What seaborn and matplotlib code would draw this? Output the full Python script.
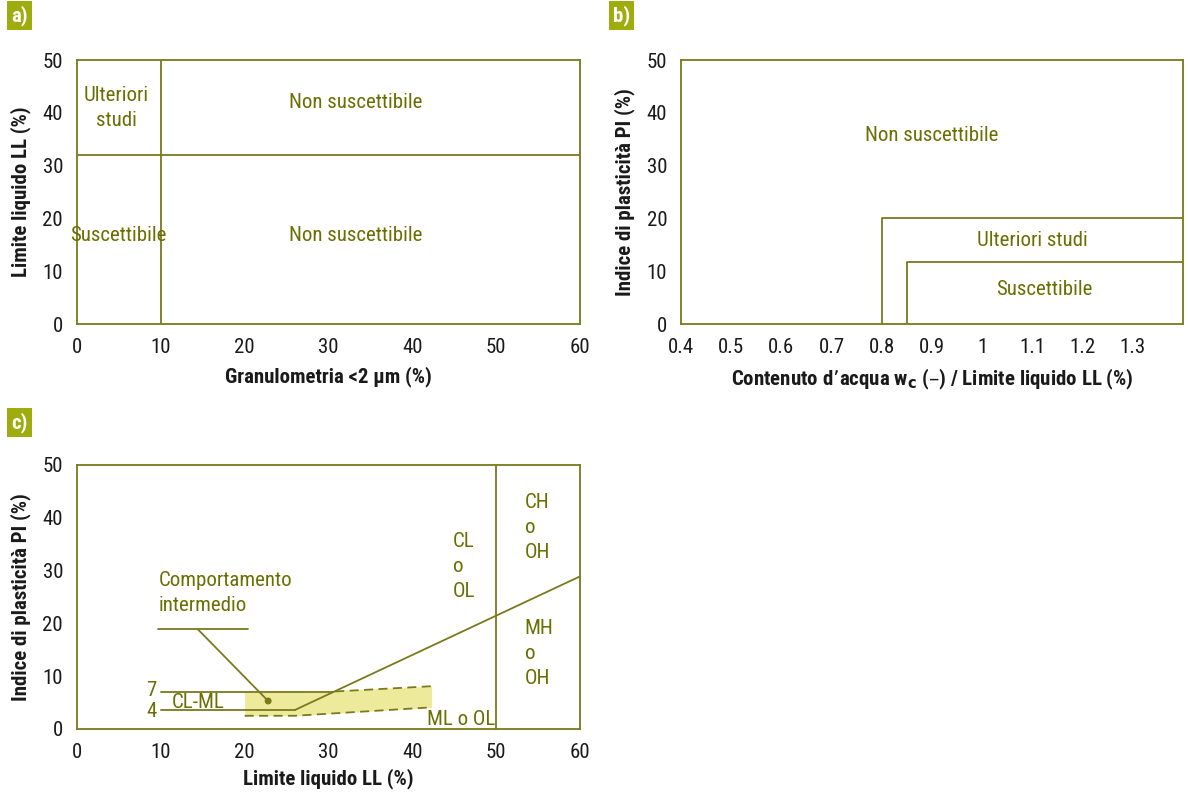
import matplotlib
matplotlib.use("Agg")
import matplotlib.pyplot as plt
import seaborn as sns
import pandas as pd

sns.set_theme(style="white")
plt.rcParams["font.family"] = ["Roboto Condensed", "Liberation Sans Narrow", "Roboto", "DejaVu Sans"]

OLIVE = "#7a7a1c"
TEXT = "#6b6e00"
BADGE = "#9fac0e"
FILL = "#eeea9c"

# a) clay fraction vs liquid limit
a_xlim = (0, 60)
a_ylim = (0, 50)
a_ticks_x = [0, 10, 20, 30, 40, 50, 60]
a_ticks_y = [0, 10, 20, 30, 40, 50]
a_split_x = 10
a_split_y = 32
a_labels = [("Ulteriori\nstudi", 4.7, 41.0), ("Non suscettibile", 33.2, 42.0),
            ("Suscettibile", 4.9, 16.8), ("Non suscettibile", 33.2, 16.8)]

# b) water content / LL vs PI
b_xlim = (0.4, 1.4)
b_ticks_x = [0.4, 0.5, 0.6, 0.7, 0.8, 0.9, 1.0, 1.1, 1.2, 1.3]
b_tick_labels = ["0.4", "0.5", "0.6", "0.7", "0.8", "0.9", "1", "1.1", "1.2", "1.3"]
b_outer = {"x": [0.8, 0.8, 1.4], "y": [0, 20, 20]}
b_inner = {"x": [0.85, 0.85, 1.4], "y": [0, 11.8, 11.8]}
b_labels = [("Non suscettibile", 0.90, 35.8), ("Ulteriori studi", 1.10, 15.8),
            ("Suscettibile", 1.124, 6.6)]

# c) plasticity chart
c_aline = {"x": [26, 60], "y": [3.6, 28.9]}
c_line7 = {"x": [10, 30.5], "y": [7, 7]}
c_line4 = {"x": [10, 26], "y": [3.6, 3.6]}
c_fill_x = [20, 26, 42.3]
c_fill_low = [2.5, 2.5, 4.1]
c_fill_high = [7, 7, 8.1]
c_top_dash = {"x": [30.8, 42.3], "y": [7.1, 8.1]}
c_low_dash = {"x": [20, 26, 42.3], "y": [2.5, 2.5, 4.1]}
c_leader = {"x": [9.7, 20.4], "y": [18.9, 18.9]}
c_pointer = {"x": [14.4, 22.8], "y": [18.9, 5.3]}
c_vline = 50
c_labels = [("CL\no\nOL", 44.8, 30.8), ("CH\no\nOH", 53.4, 38.2),
            ("MH\no\nOH", 53.4, 14.3), ("ML o OL", 41.8, 1.7),
            ("CL-ML", 11.3, 5.1)]


def style_axes(ax, xlim, ylim, xticks, yticks, xlabel, ylabel, xticklabels=None):
    ax.set_xlim(*xlim)
    ax.set_ylim(*ylim)
    ax.set_xticks(xticks)
    if xticklabels is not None:
        ax.set_xticklabels(xticklabels)
    ax.set_yticks(yticks)
    for s in ax.spines.values():
        s.set_color(OLIVE)
        s.set_linewidth(1.3)
        s.set_visible(True)
    ax.tick_params(direction="inout", length=8, width=1.2, color=OLIVE,
                   labelsize=15, labelcolor="#1a1a1a", pad=6)
    ax.set_xlabel(xlabel, fontsize=15, fontweight="bold", color="#1a1a1a", labelpad=7)
    ax.set_ylabel(ylabel, fontsize=15, fontweight="bold", color="#1a1a1a", labelpad=8)
    ax.grid(False)


def seg(ax, d, **kw):
    sns.lineplot(data=pd.DataFrame(d), x="x", y="y", ax=ax, color=OLIVE, lw=1.3,
                 sort=False, estimator=None, **kw)


def badge(fig, x, y, s):
    fig.text(x, y, s, fontsize=15, fontweight="bold", color="white", va="center",
             ha="left", bbox=dict(boxstyle="square,pad=0.2", fc=BADGE, ec="none"))


fig = plt.figure(figsize=(11.9, 7.94), dpi=100)
ax_a = fig.add_axes([0.0647, 0.5919, 0.4227, 0.3325])
ax_b = fig.add_axes([0.5723, 0.5919, 0.4218, 0.3325])
ax_c = fig.add_axes([0.0647, 0.0819, 0.4227, 0.3325])

# panel a
ax_a.axvline(a_split_x, color=OLIVE, lw=1.3)
ax_a.axhline(a_split_y, color=OLIVE, lw=1.3)
for s, x, y in a_labels:
    ax_a.text(x, y, s, ha="center", va="center", fontsize=15, color=TEXT, linespacing=1.4)
style_axes(ax_a, a_xlim, a_ylim, a_ticks_x, a_ticks_y,
           "Granulometria <2 µm (%)", "Limite liquido LL (%)")

# panel b
seg(ax_b, b_outer)
seg(ax_b, b_inner)
for s, x, y in b_labels:
    ax_b.text(x, y, s, ha="center", va="center", fontsize=15, color=TEXT)
style_axes(ax_b, b_xlim, a_ylim, b_ticks_x, a_ticks_y,
           "Contenuto d’acqua w$_\\mathbf{c}$ (–) / Limite liquido LL (%)",
           "Indice di plasticità PI (%)", xticklabels=b_tick_labels)

# panel c
ax_c.fill_between(c_fill_x, c_fill_low, c_fill_high, color=FILL, lw=0, zorder=1)
ax_c.axvline(c_vline, color=OLIVE, lw=1.3)
for d in (c_aline, c_line7, c_line4, c_leader, c_pointer):
    seg(ax_c, d)
for d in (c_top_dash, c_low_dash):
    seg(ax_c, d, linestyle=(0, (5, 3)))
sns.scatterplot(x=[c_pointer["x"][1]], y=[c_pointer["y"][1]], ax=ax_c, color=OLIVE,
                s=25, edgecolor="none", zorder=5)
for s, x, y in c_labels:
    ax_c.text(x, y, s, ha="left", va="center", fontsize=15, color=TEXT, linespacing=1.4)
ax_c.text(9.7, 25.7, "Comportamento\nintermedio", ha="left", va="center", fontsize=15,
          color=TEXT, linespacing=1.4)
ax_c.text(8.9, 7.3, "7", ha="center", va="center", fontsize=15, color=TEXT)
ax_c.text(8.9, 3.3, "4", ha="center", va="center", fontsize=15, color=TEXT)
style_axes(ax_c, a_xlim, a_ylim, a_ticks_x, a_ticks_y,
           "Limite liquido LL (%)", "Indice di plasticità PI (%)")
ax_c.xaxis.labelpad = 5

badge(fig, 0.0095, 0.980, "a)")
badge(fig, 0.5150, 0.980, "b)")
badge(fig, 0.0095, 0.468, "c)")

fig.savefig("out.png", dpi=100)
